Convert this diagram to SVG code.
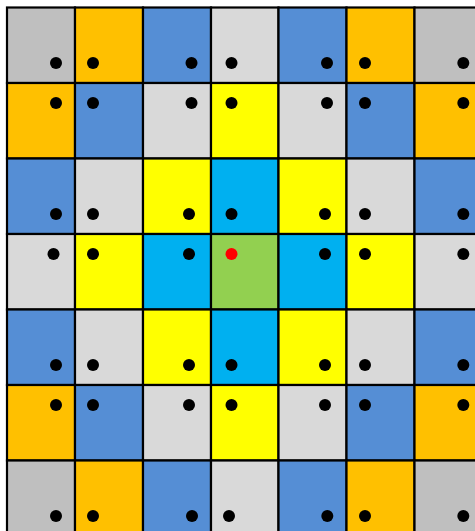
<svg xmlns="http://www.w3.org/2000/svg" width="475" height="531" viewBox="0 0 475 531">
<style>
rect{stroke:#000;stroke-width:2.2}
.g{fill:#BFBFBF}.o{fill:#FFC000}.b{fill:#558ED5}.l{fill:#D9D9D9}.y{fill:#FFFF00}.c{fill:#00B0F0}.n{fill:#92D050}
circle{fill:#000}
circle.r{fill:#FF0000}
</style>
<rect x="0" y="0" width="475" height="531" fill="#fff" style="stroke:none"/>
<g id="r0">
<g id="c0_0"><rect class="g" x="7" y="7.5" width="68" height="75.5"/><circle cx="56" cy="63" r="6"/></g>
<g id="c0_1"><rect class="o" x="75" y="7.5" width="68" height="75.5"/><circle cx="93" cy="63" r="6"/></g>
<g id="c0_2"><rect class="b" x="143" y="7.5" width="68" height="75.5"/><circle cx="191.5" cy="63" r="6"/></g>
<g id="c0_3"><rect class="l" x="211" y="7.5" width="67.5" height="75.5"/><circle cx="231.5" cy="63" r="6"/></g>
<g id="c0_4"><rect class="b" x="278.5" y="7.5" width="68" height="75.5"/><circle cx="327" cy="63" r="6"/></g>
<g id="c0_5"><rect class="o" x="346.5" y="7.5" width="68" height="75.5"/><circle cx="365" cy="63" r="6"/></g>
<g id="c0_6"><rect class="g" x="414.5" y="7.5" width="68" height="75.5"/><circle cx="463.3" cy="63" r="6"/></g>
</g>
<g id="r1">
<g id="c1_0"><rect class="o" x="7" y="83" width="68" height="75.5"/><circle cx="56" cy="103" r="6"/></g>
<g id="c1_1"><rect class="b" x="75" y="83" width="68" height="75.5"/><circle cx="93" cy="103" r="6"/></g>
<g id="c1_2"><rect class="l" x="143" y="83" width="68" height="75.5"/><circle cx="191.5" cy="103" r="6"/></g>
<g id="c1_3"><rect class="y" x="211" y="83" width="67.5" height="75.5"/><circle cx="231.5" cy="103" r="6"/></g>
<g id="c1_4"><rect class="l" x="278.5" y="83" width="68" height="75.5"/><circle cx="327" cy="103" r="6"/></g>
<g id="c1_5"><rect class="b" x="346.5" y="83" width="68" height="75.5"/><circle cx="365" cy="103" r="6"/></g>
<g id="c1_6"><rect class="o" x="414.5" y="83" width="68" height="75.5"/><circle cx="463.3" cy="103" r="6"/></g>
</g>
<g id="r2">
<g id="c2_0"><rect class="b" x="7" y="158.5" width="68" height="75.5"/><circle cx="56" cy="214" r="6"/></g>
<g id="c2_1"><rect class="l" x="75" y="158.5" width="68" height="75.5"/><circle cx="93" cy="214" r="6"/></g>
<g id="c2_2"><rect class="y" x="143" y="158.5" width="68" height="75.5"/><circle cx="189" cy="214" r="6"/></g>
<g id="c2_3"><rect class="c" x="211" y="158.5" width="67.5" height="75.5"/><circle cx="231.5" cy="214" r="6"/></g>
<g id="c2_4"><rect class="y" x="278.5" y="158.5" width="68" height="75.5"/><circle cx="325" cy="214" r="6"/></g>
<g id="c2_5"><rect class="l" x="346.5" y="158.5" width="68" height="75.5"/><circle cx="365" cy="214" r="6"/></g>
<g id="c2_6"><rect class="b" x="414.5" y="158.5" width="68" height="75.5"/><circle cx="463.3" cy="214" r="6"/></g>
</g>
<g id="r3">
<g id="c3_0"><rect class="l" x="7" y="234" width="68" height="75.5"/><circle cx="53.5" cy="254" r="6"/></g>
<g id="c3_1"><rect class="y" x="75" y="234" width="68" height="75.5"/><circle cx="93" cy="254" r="6"/></g>
<g id="c3_2"><rect class="c" x="143" y="234" width="68" height="75.5"/><circle cx="189" cy="254" r="6"/></g>
<g id="c3_3"><rect class="n" x="211" y="234" width="67.5" height="75.5"/><circle class="r" cx="231.5" cy="254" r="6"/></g>
<g id="c3_4"><rect class="c" x="278.5" y="234" width="68" height="75.5"/><circle cx="325" cy="254" r="6"/></g>
<g id="c3_5"><rect class="y" x="346.5" y="234" width="68" height="75.5"/><circle cx="365" cy="254" r="6"/></g>
<g id="c3_6"><rect class="l" x="414.5" y="234" width="68" height="75.5"/><circle cx="463.3" cy="254" r="6"/></g>
</g>
<g id="r4">
<g id="c4_0"><rect class="b" x="7" y="309.5" width="68" height="75.5"/><circle cx="56" cy="365" r="6"/></g>
<g id="c4_1"><rect class="l" x="75" y="309.5" width="68" height="75.5"/><circle cx="93" cy="365" r="6"/></g>
<g id="c4_2"><rect class="y" x="143" y="309.5" width="68" height="75.5"/><circle cx="189" cy="365" r="6"/></g>
<g id="c4_3"><rect class="c" x="211" y="309.5" width="67.5" height="75.5"/><circle cx="231.5" cy="365" r="6"/></g>
<g id="c4_4"><rect class="y" x="278.5" y="309.5" width="68" height="75.5"/><circle cx="325" cy="365" r="6"/></g>
<g id="c4_5"><rect class="l" x="346.5" y="309.5" width="68" height="75.5"/><circle cx="365" cy="365" r="6"/></g>
<g id="c4_6"><rect class="b" x="414.5" y="309.5" width="68" height="75.5"/><circle cx="463.3" cy="365" r="6"/></g>
</g>
<g id="r5">
<g id="c5_0"><rect class="o" x="7" y="385" width="68" height="75.5"/><circle cx="56" cy="405" r="6"/></g>
<g id="c5_1"><rect class="b" x="75" y="385" width="68" height="75.5"/><circle cx="93" cy="405" r="6"/></g>
<g id="c5_2"><rect class="l" x="143" y="385" width="68" height="75.5"/><circle cx="189" cy="405" r="6"/></g>
<g id="c5_3"><rect class="y" x="211" y="385" width="67.5" height="75.5"/><circle cx="231.5" cy="405" r="6"/></g>
<g id="c5_4"><rect class="l" x="278.5" y="385" width="68" height="75.5"/><circle cx="325" cy="405" r="6"/></g>
<g id="c5_5"><rect class="b" x="346.5" y="385" width="68" height="75.5"/><circle cx="365" cy="405" r="6"/></g>
<g id="c5_6"><rect class="o" x="414.5" y="385" width="68" height="75.5"/><circle cx="463.3" cy="405" r="6"/></g>
</g>
<g id="r6">
<g id="c6_0"><rect class="g" x="7" y="460.5" width="68" height="75.5"/><circle cx="56" cy="516" r="6"/></g>
<g id="c6_1"><rect class="o" x="75" y="460.5" width="68" height="75.5"/><circle cx="93" cy="516" r="6"/></g>
<g id="c6_2"><rect class="b" x="143" y="460.5" width="68" height="75.5"/><circle cx="192" cy="516" r="6"/></g>
<g id="c6_3"><rect class="l" x="211" y="460.5" width="67.5" height="75.5"/><circle cx="229" cy="516" r="6"/></g>
<g id="c6_4"><rect class="b" x="278.5" y="460.5" width="68" height="75.5"/><circle cx="327.3" cy="516" r="6"/></g>
<g id="c6_5"><rect class="o" x="346.5" y="460.5" width="68" height="75.5"/><circle cx="365" cy="516" r="6"/></g>
<g id="c6_6"><rect class="g" x="414.5" y="460.5" width="68" height="75.5"/><circle cx="463.3" cy="516" r="6"/></g>
</g>
<g id="connectors"/>
</svg>
